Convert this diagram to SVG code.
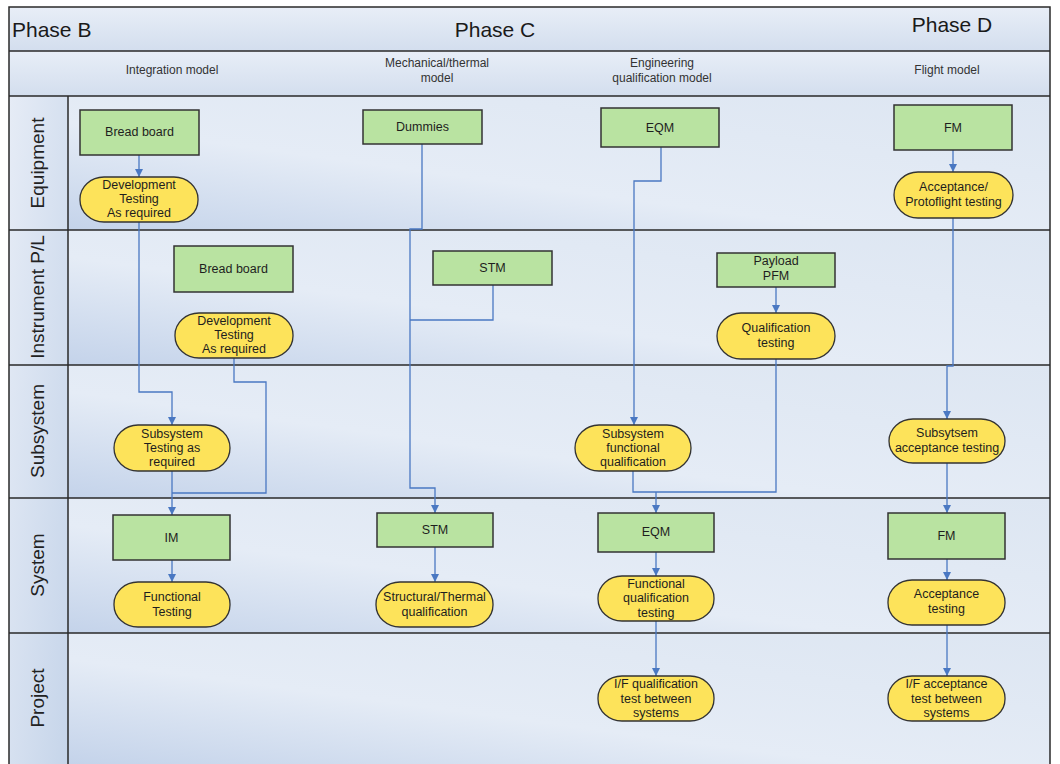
<svg xmlns="http://www.w3.org/2000/svg" width="1060" height="764" viewBox="0 0 1060 764">
  <defs>
    <linearGradient id="laneFill" x1="0" y1="1" x2="1" y2="0">
      <stop offset="0" stop-color="#c4d3ea"/>
      <stop offset="0.4" stop-color="#e5ecf6"/>
      <stop offset="1" stop-color="#dde6f2"/>
    </linearGradient>
    <linearGradient id="labelFill" x1="0" y1="0" x2="1" y2="1">
      <stop offset="0" stop-color="#e6ecf6"/>
      <stop offset="1" stop-color="#c6d5ea"/>
    </linearGradient>
    <linearGradient id="headFill" x1="0" y1="0" x2="0" y2="1">
      <stop offset="0" stop-color="#e8eef7"/>
      <stop offset="1" stop-color="#d3deee"/>
    </linearGradient>
    <marker id="arrow" markerUnits="userSpaceOnUse" markerWidth="9" markerHeight="8" refX="8" refY="4" orient="auto">
      <path d="M0,0 L8,4 L0,8 Z" fill="#4a78c2"/>
    </marker>
    <style>
      .lane { fill: url(#laneFill); }
      .label { fill: url(#labelFill); }
      .head { fill: url(#headFill); }
      .sep { stroke: #2a2a2a; stroke-width: 1.5; fill: none; }
      .frame { stroke: #2a2a2a; stroke-width: 1.5; fill: none; }
      .phase { font-family: "Liberation Sans", Arial, sans-serif; font-size: 21px; fill: #1a1a1a; }
      .col { font-family: "Liberation Sans", Arial, sans-serif; font-size: 12px; fill: #333; text-anchor: middle; }
      .lanetxt { font-family: "Liberation Sans", Arial, sans-serif; font-size: 19px; fill: #222; text-anchor: middle; }
      .box { fill: #b9e3a1; stroke: #333; stroke-width: 1.5; }
      .term { fill: #fde35a; stroke: #333; stroke-width: 1.3; }
      .t { font-family: "Liberation Sans", Arial, sans-serif; font-size: 12.5px; fill: #1e1e1e; text-anchor: middle; }
      .conn { stroke: #4a78c2; stroke-width: 1.3; fill: none; }
    </style>
  </defs>

  <!-- swimlane backgrounds -->
  <g id="background">
    <rect class="head" x="9" y="7" width="1041" height="44"/>
    <rect class="head" x="9" y="51" width="1041" height="45"/>
    <rect class="lane" x="68" y="96" width="982" height="134"/>
    <rect class="lane" x="68" y="230" width="982" height="135"/>
    <rect class="lane" x="68" y="365" width="982" height="133"/>
    <rect class="lane" x="68" y="498" width="982" height="135"/>
    <rect class="lane" x="68" y="633" width="982" height="131"/>
    <rect class="label" x="9" y="96" width="59" height="668"/>
    <path class="sep" d="M9,51 H1050 M9,96 H1050 M9,230 H1050 M9,365 H1050 M9,498 H1050 M9,633 H1050 M68,96 V764"/>
    <path class="frame" d="M9,764 V7 H1050 V764"/>
  </g>

  <!-- phase and model headings -->
  <g id="headings">
    <text class="phase" x="12" y="37">Phase B</text>
    <text class="phase" x="495" y="37" text-anchor="middle">Phase C</text>
    <text class="phase" x="952" y="32" text-anchor="middle">Phase D</text>
    <text class="col" x="172" y="74">Integration model</text>
    <text class="col" x="437" y="67">Mechanical/thermal</text>
    <text class="col" x="437" y="82">model</text>
    <text class="col" x="662" y="67">Engineering</text>
    <text class="col" x="662" y="82">qualification model</text>
    <text class="col" x="947" y="74">Flight model</text>
  </g>

  <!-- lane titles -->
  <g id="lanes">
    <text class="lanetxt" transform="translate(44,163) rotate(-90)">Equipment</text>
    <text class="lanetxt" transform="translate(44,297) rotate(-90)">Instrument P/L</text>
    <text class="lanetxt" transform="translate(44,431) rotate(-90)">Subsystem</text>
    <text class="lanetxt" transform="translate(44,565) rotate(-90)">System</text>
    <text class="lanetxt" transform="translate(44,698) rotate(-90)">Project</text>
  </g>

  <!-- connectors -->
  <g id="connectors">
    <path class="conn" d="M139,155 V177" marker-end="url(#arrow)"/>
    <path class="conn" d="M139,222 V392 H172 V425" marker-end="url(#arrow)"/>
    <path class="conn" d="M234,358 V382 H266 V493 H172"/>
    <path class="conn" d="M172,471 V515" marker-end="url(#arrow)"/>
    <path class="conn" d="M422,144 V229 H410 V488 H435 V513" marker-end="url(#arrow)"/>
    <path class="conn" d="M493,285 V320 H410"/>
    <path class="conn" d="M661,147 V181 H634 V425" marker-end="url(#arrow)"/>
    <path class="conn" d="M776,287 V313" marker-end="url(#arrow)"/>
    <path class="conn" d="M776,359 V492 H633 V471"/>
    <path class="conn" d="M656,492 V513" marker-end="url(#arrow)"/>
    <path class="conn" d="M953,150 V172" marker-end="url(#arrow)"/>
    <path class="conn" d="M953,218 V366 H947 V419" marker-end="url(#arrow)"/>
    <path class="conn" d="M947,463 V513" marker-end="url(#arrow)"/>
    <path class="conn" d="M172,560 V582" marker-end="url(#arrow)"/>
    <path class="conn" d="M435,547 V582" marker-end="url(#arrow)"/>
    <path class="conn" d="M656,552 V576" marker-end="url(#arrow)"/>
    <path class="conn" d="M947,559 V580" marker-end="url(#arrow)"/>
    <path class="conn" d="M656,621 V676" marker-end="url(#arrow)"/>
    <path class="conn" d="M947,625 V676" marker-end="url(#arrow)"/>
  </g>

  <!-- Equipment lane -->
  <g id="eq-breadboard">
    <rect class="box" x="80" y="110" width="119" height="45"/>
    <text class="t" x="139.5" y="136">Bread board</text>
  </g>
  <g id="eq-devtest">
    <rect class="term" x="80" y="177" width="118" height="45" rx="24" ry="22"/>
    <text class="t" x="139" y="189">Development</text>
    <text class="t" x="139" y="203">Testing</text>
    <text class="t" x="139" y="217">As required</text>
  </g>
  <g id="eq-dummies">
    <rect class="box" x="363" y="110" width="119" height="34"/>
    <text class="t" x="422.5" y="131">Dummies</text>
  </g>
  <g id="eq-eqm">
    <rect class="box" x="601" y="108" width="118" height="39"/>
    <text class="t" x="660" y="132">EQM</text>
  </g>
  <g id="eq-fm">
    <rect class="box" x="894" y="105" width="118" height="45"/>
    <text class="t" x="953" y="132">FM</text>
  </g>
  <g id="eq-acceptance">
    <rect class="term" x="894" y="172" width="119" height="46" rx="24" ry="23"/>
    <text class="t" x="953.5" y="191">Acceptance/</text>
    <text class="t" x="953.5" y="206">Protoflight testing</text>
  </g>

  <!-- Instrument P/L lane -->
  <g id="in-breadboard">
    <rect class="box" x="174" y="246" width="119" height="46"/>
    <text class="t" x="233.5" y="273">Bread board</text>
  </g>
  <g id="in-devtest">
    <rect class="term" x="175" y="313" width="118" height="45" rx="24" ry="22"/>
    <text class="t" x="234" y="325">Development</text>
    <text class="t" x="234" y="339">Testing</text>
    <text class="t" x="234" y="353">As required</text>
  </g>
  <g id="in-stm">
    <rect class="box" x="433" y="251" width="119" height="34"/>
    <text class="t" x="492.5" y="272">STM</text>
  </g>
  <g id="in-payload">
    <rect class="box" x="717" y="253" width="118" height="34"/>
    <text class="t" x="776" y="265">Payload</text>
    <text class="t" x="776" y="280">PFM</text>
  </g>
  <g id="in-qualification">
    <rect class="term" x="717" y="313" width="118" height="46" rx="24" ry="23"/>
    <text class="t" x="776" y="332">Qualification</text>
    <text class="t" x="776" y="347">testing</text>
  </g>

  <!-- Subsystem lane -->
  <g id="ss-testing">
    <rect class="term" x="114" y="425" width="116" height="46" rx="24" ry="23"/>
    <text class="t" x="172" y="438">Subsystem</text>
    <text class="t" x="172" y="452">Testing as</text>
    <text class="t" x="172" y="466">required</text>
  </g>
  <g id="ss-functional">
    <rect class="term" x="575" y="425" width="116" height="46" rx="24" ry="23"/>
    <text class="t" x="633" y="438">Subsystem</text>
    <text class="t" x="633" y="452">functional</text>
    <text class="t" x="633" y="466">qualification</text>
  </g>
  <g id="ss-acceptance">
    <rect class="term" x="889" y="419" width="116" height="44" rx="24" ry="22"/>
    <text class="t" x="947" y="437">Subsytsem</text>
    <text class="t" x="947" y="452">acceptance testing</text>
  </g>

  <!-- System lane -->
  <g id="sy-im">
    <rect class="box" x="113" y="515" width="117" height="45"/>
    <text class="t" x="171.5" y="542">IM</text>
  </g>
  <g id="sy-functional">
    <rect class="term" x="114" y="582" width="116" height="45" rx="24" ry="22"/>
    <text class="t" x="172" y="601">Functional</text>
    <text class="t" x="172" y="616">Testing</text>
  </g>
  <g id="sy-stm">
    <rect class="box" x="377" y="513" width="116" height="34"/>
    <text class="t" x="435" y="534">STM</text>
  </g>
  <g id="sy-structural">
    <rect class="term" x="376" y="582" width="117" height="45" rx="24" ry="22"/>
    <text class="t" x="434.5" y="601">Structural/Thermal</text>
    <text class="t" x="434.5" y="616">qualification</text>
  </g>
  <g id="sy-eqm">
    <rect class="box" x="598" y="513" width="116" height="39"/>
    <text class="t" x="656" y="536">EQM</text>
  </g>
  <g id="sy-funcqual">
    <rect class="term" x="598" y="576" width="116" height="45" rx="24" ry="22"/>
    <text class="t" x="656" y="588">Functional</text>
    <text class="t" x="656" y="602">qualification</text>
    <text class="t" x="656" y="617">testing</text>
  </g>
  <g id="sy-fm">
    <rect class="box" x="888" y="513" width="117" height="46"/>
    <text class="t" x="946.5" y="540">FM</text>
  </g>
  <g id="sy-acceptance">
    <rect class="term" x="888" y="580" width="117" height="45" rx="24" ry="22"/>
    <text class="t" x="946.5" y="598">Acceptance</text>
    <text class="t" x="946.5" y="613">testing</text>
  </g>

  <!-- Project lane -->
  <g id="pr-ifqual">
    <rect class="term" x="598" y="676" width="116" height="45" rx="24" ry="22"/>
    <text class="t" x="656" y="688">I/F qualification</text>
    <text class="t" x="656" y="703">test between</text>
    <text class="t" x="656" y="717">systems</text>
  </g>
  <g id="pr-ifaccept">
    <rect class="term" x="888" y="676" width="117" height="45" rx="24" ry="22"/>
    <text class="t" x="946.5" y="688">I/F acceptance</text>
    <text class="t" x="946.5" y="703">test between</text>
    <text class="t" x="946.5" y="717">systems</text>
  </g>
</svg>
